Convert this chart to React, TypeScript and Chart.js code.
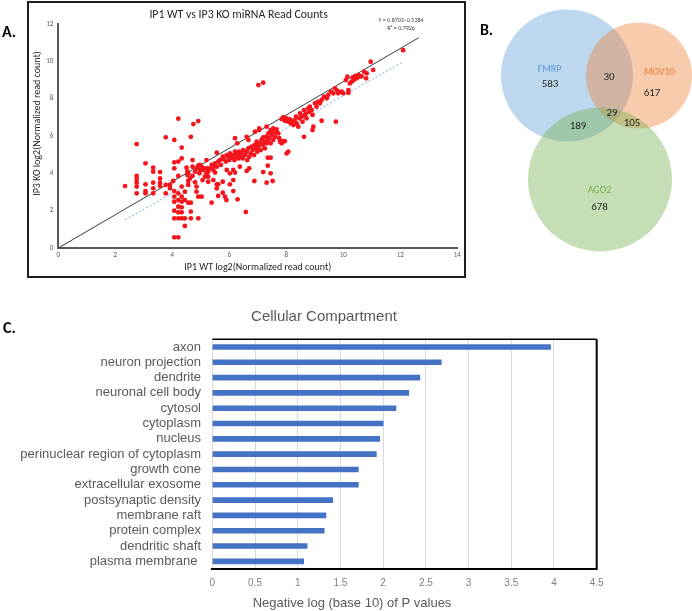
import React, { useEffect, useRef } from 'react';
import { Chart, registerables } from 'chart.js';

Chart.register(...registerables);

const FONT_A = "Carlito, Calibri, Lato, 'Open Sans', sans-serif";
const FONT_C = "'Liberation Sans', Arial, sans-serif";
const FONT_C_NARROW = "'Liberation Sans Narrow', 'Liberation Sans', Arial, sans-serif";

// ---------- Panel A: scatter (x = IP1 WT, y = IP3 KO), log2 normalized read counts ----------
const scatterTitle = 'IP1 WT vs IP3 KO miRNA Read Counts';
const scatterXTitle = 'IP1 WT log2(Normalized read count)';
const scatterYTitle = 'IP3 KO log2(Normalized read count)';
const regressionText = ['Y = 0.8703\u22120.5384', 'R\u00B2 = 0.7926'];
const scatterXTicks = { min: 0, max: 14, step: 2 };
const scatterYTicks = { min: 0, max: 12, step: 2 };

const offDiagonalPoints: [number, number][] = [
  [2.34, 3.32], [2.75, 5.57], [2.75, 3.86], [2.75, 3.7], [2.75, 3.5], [2.75, 3.29], [2.75, 2.93],
  [3.06, 4.54], [3.06, 3.41], [3.06, 3.05], [3.06, 2.93],
  [3.33, 4.3], [3.33, 4.09], [3.33, 3.5], [3.33, 3.2], [3.33, 2.93],
  [3.57, 4.07], [3.57, 3.73], [3.57, 3.5], [3.57, 3.32],
  [3.77, 5.93], [3.77, 3.38], [3.77, 2.93],
  [3.92, 3.38], [3.92, 3.2], [4.03, 3.59],
  [4.07, 5.79], [4.07, 4.59], [4.07, 4.27], [4.07, 3.05], [4.07, 2.75], [4.07, 2.48], [4.07, 2.0], [4.07, 1.59], [4.07, 0.57],
  [4.21, 6.93], [4.21, 4.63], [4.21, 3.86], [4.21, 2.93], [4.21, 2.57], [4.21, 2.21], [4.21, 1.91], [4.21, 1.59], [4.21, 0.57],
  [4.33, 5.38], [4.33, 4.8], [4.33, 3.29], [4.33, 2.75], [4.33, 2.48], [4.33, 2.18], [4.33, 1.91], [4.33, 1.59],
  [4.44, 3.02], [4.44, 2.57], [4.44, 1.59], [4.44, 1.18],
  [4.53, 4.09], [4.53, 3.91], [4.56, 3.59], [4.56, 3.38], [4.56, 2.43],
  [4.65, 5.96], [4.65, 2.43], [4.65, 1.95], [4.65, 1.59],
  [4.74, 6.64], [4.71, 4.71], [4.71, 4.36], [4.71, 3.86],
  [4.91, 6.8], [4.8, 3.52], [4.85, 3.29], [4.85, 3.02], [4.91, 2.75], [4.91, 1.59], [4.91, 4.41], [4.97, 4.18],
  [5.03, 2.75], [5.06, 3.64], [5.09, 4.27], [5.2, 4.27], [5.26, 3.82], [5.26, 3.55], [5.38, 2.43], [5.44, 4.39],
  [5.5, 4.04], [5.56, 3.41], [5.56, 3.2], [5.61, 2.79], [5.77, 2.96], [5.85, 2.75], [5.9, 2.57], [6.02, 3.41],
  [6.14, 3.05], [6.2, 4.04], [6.29, 2.61], [6.58, 1.93], [6.88, 3.59], [7.02, 8.73], [7.19, 8.86], [7.05, 6.32],
  [7.19, 4.07], [7.35, 4.41], [7.35, 4.84], [7.45, 4.84], [7.31, 3.5], [7.45, 4.0], [7.52, 3.59],
  [8.01, 5.07], [8.07, 5.16], [7.95, 5.73], [8.62, 5.96], [8.95, 6.5], [8.92, 6.32], [9.24, 6.82], [9.74, 6.77],
  [10.18, 8.46], [10.18, 8.32], [10.96, 9.98], [11.05, 9.54], [12.1, 10.6],
];

const midBandPoints: [number, number][] = [
  [4.5, 4.3], [4.56, 4.0], [4.62, 3.73], [4.8, 4.09], [4.85, 4.27], [4.95, 4.0], [5.03, 4.36], [5.09, 4.18],
  [5.15, 3.82], [5.2, 4.0], [5.26, 4.09], [5.32, 4.27], [5.38, 4.45], [5.44, 4.18], [5.5, 4.54], [5.56, 4.36],
  [5.61, 4.63], [5.67, 4.71], [5.7, 4.45], [5.77, 4.89], [5.81, 4.75], [5.88, 4.63], [5.91, 4.98], [5.96, 4.89],
  [6.0, 4.71], [6.02, 5.07], [6.08, 4.84], [6.14, 4.98], [6.18, 4.71], [6.2, 5.16], [6.23, 4.89], [6.28, 5.04],
  [6.32, 4.8], [6.35, 5.16], [6.37, 4.93], [6.43, 5.07], [6.47, 4.8], [6.49, 5.25], [6.55, 4.98], [6.61, 5.16],
  [6.63, 4.71], [6.67, 5.34], [6.7, 4.89], [6.75, 5.07], [6.78, 5.43], [6.82, 5.25], [6.87, 4.98], [6.9, 5.52],
  [6.94, 5.34], [6.96, 5.7], [6.98, 5.16], [7.02, 5.43], [7.05, 5.61], [7.1, 5.25], [7.13, 5.79], [7.17, 5.52],
  [7.19, 5.93], [7.23, 5.7], [7.25, 5.34], [7.29, 5.96], [7.31, 5.61], [7.35, 5.79], [7.37, 6.14], [7.4, 5.88],
  [7.45, 5.61], [7.49, 6.05], [7.52, 6.23], [7.54, 5.79], [7.6, 5.96], [7.64, 6.18], [7.66, 6.36], [7.72, 6.14],
  [7.78, 5.7], [7.84, 5.61], [7.89, 5.73], [7.75, 5.88],
  [6.2, 5.88], [6.28, 5.61], [5.56, 5.11], [5.2, 4.71], [4.97, 4.45], [6.61, 5.96], [6.67, 5.79], [6.9, 6.23],
  [7.05, 6.41], [7.31, 6.5], [7.45, 6.32], [7.54, 6.41],
  [5.91, 4.18], [6.02, 4.0], [6.14, 4.18], [6.37, 4.36], [6.61, 4.13], [6.7, 4.27],
  [5.44, 3.64], [5.61, 3.41], [5.77, 3.55], [6.14, 3.64],
];

const upperBandPoints: [number, number][] = [
  [7.84, 6.91], [7.89, 7.0], [7.95, 6.82], [8.01, 6.95], [8.07, 6.77], [8.13, 6.89], [8.15, 6.68], [8.22, 6.77],
  [8.25, 6.59], [8.3, 6.86], [8.34, 7.04], [8.36, 6.68], [8.42, 6.5], [8.46, 6.95], [8.48, 7.21], [8.54, 7.04],
  [8.57, 6.77], [8.62, 7.39], [8.65, 7.13], [8.69, 7.21], [8.71, 6.95], [8.77, 7.48], [8.81, 7.3], [8.83, 7.57],
  [8.89, 7.39], [8.92, 7.13], [9.01, 7.75], [9.06, 7.57], [9.12, 7.84],
  [9.18, 7.75], [9.24, 7.93], [9.32, 8.11], [9.42, 8.02], [9.47, 8.2], [9.56, 8.38], [9.65, 8.29], [9.71, 8.55],
  [9.79, 8.43], [9.82, 8.29], [9.94, 8.38], [10.0, 8.29], [10.09, 9.0], [10.14, 9.18], [10.23, 8.82], [10.29, 8.91],
  [10.33, 9.14], [10.37, 9.0], [10.41, 9.21], [10.47, 9.09], [10.53, 9.27], [10.58, 9.18], [10.64, 9.21],
  [10.73, 9.45], [10.8, 9.09], [10.82, 9.36],
];

// reference line and fitted regression line (end points)
const referenceLine: [number, number][] = [[0, 0], [12.65, 11.27]];
const regressionLine: [number, number][] = [[2.35, 1.51], [12.1, 9.99]];

// ---------- Panel B: Venn diagram ----------
const vennSetNames = ['FMRP', 'MOV10', 'AGO2'];
const vennSetColors = ['#5b9bd5', '#ed7d31', '#70ad47'];
const vennSetFills = ['rgba(91,155,213,0.4)', 'rgba(237,125,49,0.4)', 'rgba(112,173,71,0.4)'];
const vennUniqueCounts = [583, 617, 678];
const vennPairNames = ['FMRP∩MOV10', 'FMRP∩AGO2', 'MOV10∩AGO2'];
const vennPairCounts = [30, 189, 105];
const vennTripleCount = 29;
// layout of the diagram (circle centres / radii and label anchors in page pixels)
const vennCircleLayout = [
  { cx: 567, cy: 75.5, r: 66 },
  { cx: 639, cy: 75.5, r: 53 },
  { cx: 600, cy: 179.5, r: 72 },
];
const vennNameAnchors = [[549.5, 69.5], [659.5, 72], [599.5, 190]];
const vennUniqueAnchors = [[550, 84.5], [652, 93.5], [599.5, 207.5]];
const vennPairAnchors = [[609, 77], [578, 126], [632, 123]];
const vennTripleAnchor = [612, 113.5];

// ---------- Panel C: horizontal bar chart ----------
const compartmentTitle = 'Cellular Compartment';
const compartmentXTitle = 'Negative log (base 10) of P values';
const compartments = [
  'axon', 'neuron projection', 'dendrite', 'neuronal cell body', 'cytosol', 'cytoplasm', 'nucleus',
  'perinuclear region of cytoplasm', 'growth cone', 'extracellular exosome', 'postsynaptic density',
  'membrane raft', 'protein complex', 'dendritic shaft', 'plasma membrane ',
];
const negLogP = [3.96, 2.68, 2.43, 2.3, 2.15, 2.0, 1.96, 1.92, 1.71, 1.71, 1.41, 1.33, 1.31, 1.11, 1.07];
const compartmentTicks = { min: 0, max: 4.5, step: 0.5 };

const toXY = (arr: [number, number][]) => arr.map(([x, y]) => ({ x, y }));

const panelAExtras = {
  id: 'panelAExtras',
  afterDraw(chart: any) {
    const { ctx } = chart;
    ctx.save();
    ctx.strokeStyle = '#1e1e1e';
    ctx.lineWidth = 2;
    ctx.strokeRect(28, 2, 437, 275);
    ctx.fillStyle = '#000';
    ctx.font = `bold 16px ${FONT_A}`;
    ctx.textAlign = 'left';
    ctx.textBaseline = 'middle';
    ctx.fillText('A.', 2, 33);
    ctx.save();
    ctx.translate(37, 123.5);
    ctx.rotate(-Math.PI / 2);
    ctx.font = `10px ${FONT_A}`;
    ctx.fillStyle = '#262626';
    ctx.textAlign = 'center';
    ctx.fillText(scatterYTitle, 0, 0);
    ctx.restore();
    ctx.font = `6px ${FONT_A}`;
    ctx.fillStyle = '#404040';
    ctx.textAlign = 'center';
    ctx.fillText(regressionText[0], 401, 20);
    ctx.fillText(regressionText[1], 401, 28.3);
    ctx.restore();
  },
};

const vennText = {
  id: 'vennText',
  afterDatasetsDraw(chart: any) {
    const { ctx } = chart;
    const xs = chart.scales.x;
    const ys = chart.scales.y;
    const put = (t: string, p: number[], color: string, font: string) => {
      ctx.fillStyle = color;
      ctx.font = font;
      ctx.fillText(t, xs.getPixelForValue(p[0]), ys.getPixelForValue(p[1]));
    };
    ctx.save();
    ctx.textAlign = 'center';
    ctx.textBaseline = 'middle';
    const numFont = `11px ${FONT_A}`;
    vennSetNames.forEach((n, i) => put(n, vennNameAnchors[i], vennSetColors[i], `10px ${FONT_A}`));
    vennUniqueCounts.forEach((v, i) => put(String(v), vennUniqueAnchors[i], '#262626', numFont));
    vennPairCounts.forEach((v, i) => put(String(v), vennPairAnchors[i], '#262626', numFont));
    put(String(vennTripleCount), vennTripleAnchor, '#262626', numFont);
    put('B.', [486.5, 30.5], '#000', `bold 16px ${FONT_A}`);
    ctx.restore();
  },
};

const panelCExtras = {
  id: 'panelCExtras',
  afterDraw(chart: any) {
    const { ctx, chartArea } = chart;
    ctx.save();
    ctx.strokeStyle = '#000';
    ctx.lineWidth = 1.5;
    ctx.beginPath();
    ctx.moveTo(chartArea.left, chartArea.top);
    ctx.lineTo(chartArea.right, chartArea.top);
    ctx.stroke();
    ctx.lineWidth = 2;
    ctx.beginPath();
    ctx.moveTo(chartArea.right, chartArea.top);
    ctx.lineTo(chartArea.right, chartArea.bottom + 1);
    ctx.stroke();
    ctx.fillStyle = '#000';
    ctx.font = `bold 16px ${FONT_A}`;
    ctx.textAlign = 'left';
    ctx.textBaseline = 'middle';
    ctx.fillText('C.', 3, 29);
    ctx.fillStyle = '#595959';
    ctx.textAlign = 'center';
    ctx.font = `15px ${FONT_C}`;
    ctx.fillText(compartmentTitle, 324, 17);
    ctx.font = `13px ${FONT_C}`;
    ctx.fillText(compartmentXTitle, 352, 303.5);
    ctx.restore();
  },
};

export default function App() {
  const refA = useRef<HTMLCanvasElement>(null);
  const refB = useRef<HTMLCanvasElement>(null);
  const refC = useRef<HTMLCanvasElement>(null);

  useEffect(() => {
    const chartA = new Chart(refA.current as HTMLCanvasElement, {
      type: 'scatter',
      data: {
        datasets: [
          {
            label: 'miRNA',
            data: toXY([...offDiagonalPoints, ...midBandPoints, ...upperBandPoints]),
            backgroundColor: '#f3141c',
            borderWidth: 0,
            pointRadius: 2.4,
          },
          {
            label: 'reference',
            data: toXY(referenceLine),
            showLine: true,
            borderColor: '#3a3a3a',
            borderWidth: 1,
            pointRadius: 0,
          },
          {
            label: 'linear fit',
            data: toXY(regressionLine),
            showLine: true,
            borderColor: '#9dc3e6',
            borderDash: [2, 2],
            borderWidth: 1.2,
            pointRadius: 0,
          },
        ],
      } as any,
      options: {
        responsive: false,
        animation: false,
        layout: { autoPadding: false, padding: { left: 20, right: 12.7, top: 0, bottom: 14 } },
        plugins: {
          legend: { display: false },
          tooltip: { enabled: false },
          title: {
            display: true,
            text: scatterTitle,
            color: '#262626',
            font: { family: FONT_A, size: 11.8, weight: 'normal' },
            padding: { top: 7.9, bottom: 2 },
          },
        },
        scales: {
          x: {
            type: 'linear',
            min: scatterXTicks.min,
            max: scatterXTicks.max,
            ticks: { stepSize: scatterXTicks.step, color: '#595959', font: { family: FONT_A, size: 7 }, padding: 3, maxRotation: 0, autoSkip: false },
            grid: { display: false, drawTicks: false },
            border: { display: true, color: '#595959', width: 2 },
            title: {
              display: true,
              text: scatterXTitle,
              color: '#262626',
              font: { family: FONT_A, size: 10 },
              padding: { top: 0, bottom: 3 },
            },
            afterFit: (s: any) => { s.height = 28; s.paddingLeft = 0; s.paddingRight = 0; },
          },
          y: {
            type: 'linear',
            min: scatterYTicks.min,
            max: scatterYTicks.max,
            ticks: { stepSize: scatterYTicks.step, color: '#595959', font: { family: FONT_A, size: 7 }, padding: 5 },
            grid: { display: false, drawTicks: false },
            border: { display: true, color: '#595959', width: 2 },
            afterFit: (s: any) => { s.width = 38.3; s.paddingTop = 0; s.paddingBottom = 0; },
          },
        },
      } as any,
      plugins: [panelAExtras],
    });

    const chartB = new Chart(refB.current as HTMLCanvasElement, {
      type: 'bubble',
      data: {
        datasets: [
          {
            label: 'sets',
            data: vennCircleLayout.map((c) => ({ x: c.cx, y: c.cy, r: c.r })),
            backgroundColor: vennSetFills,
            borderWidth: 0,
            clip: false,
          },
        ],
      } as any,
      options: {
        responsive: false,
        animation: false,
        layout: { autoPadding: false, padding: 0 },
        plugins: { legend: { display: false }, tooltip: { enabled: false } },
        scales: {
          x: { type: 'linear', display: false, min: 470, max: 692 },
          y: { type: 'linear', display: false, min: 0, max: 265, reverse: true },
        },
      } as any,
      plugins: [vennText],
    });

    const chartC = new Chart(refC.current as HTMLCanvasElement, {
      type: 'bar',
      data: {
        labels: compartments,
        datasets: [{ label: compartmentXTitle, data: negLogP, backgroundColor: '#4472c4', barThickness: 5 }],
      },
      options: {
        indexAxis: 'y',
        responsive: false,
        animation: false,
        layout: { autoPadding: false, padding: { left: 0, right: 95.3, top: 39.3, bottom: 0 } },
        plugins: {
          legend: { display: false },
          tooltip: { enabled: false },
        },
        scales: {
          x: {
            type: 'linear',
            min: compartmentTicks.min,
            max: compartmentTicks.max,
            ticks: {
              stepSize: compartmentTicks.step,
              color: '#808080',
              font: { family: FONT_C_NARROW, size: 10 },
              padding: 8,
              maxRotation: 0,
              autoSkip: false,
              callback: (v: any) => String(Number(v)),
            },
            grid: { color: '#d9d9d9', lineWidth: 1, drawTicks: false },
            border: { display: true, color: '#000', width: 2 },
            afterFit: (s: any) => { s.height = 42; s.paddingLeft = 0; s.paddingRight = 0; },
          },
          y: {
            type: 'category',
            ticks: { color: '#595959', font: { family: FONT_C, size: 13 }, padding: 11.3, autoSkip: false },
            grid: { display: false, drawTicks: false },
            border: { display: false },
            afterFit: (s: any) => { s.width = 212.3; s.paddingTop = 0; s.paddingBottom = 0; },
          },
        },
      } as any,
      plugins: [panelCExtras],
    });

    return () => {
      chartA.destroy();
      chartB.destroy();
      chartC.destroy();
    };
  }, []);

  return (
    <div style={{ position: 'absolute', left: 0, top: 0, width: 692, height: 611, background: '#fff', overflow: 'hidden' }}>
      <canvas ref={refA} width={470} height={290} style={{ position: 'absolute', left: 0, top: 0, width: 470, height: 290 }} />
      <canvas ref={refB} width={222} height={265} style={{ position: 'absolute', left: 470, top: 0, width: 222, height: 265 }} />
      <canvas ref={refC} width={692} height={311} style={{ position: 'absolute', left: 0, top: 300, width: 692, height: 311 }} />
    </div>
  );
}
